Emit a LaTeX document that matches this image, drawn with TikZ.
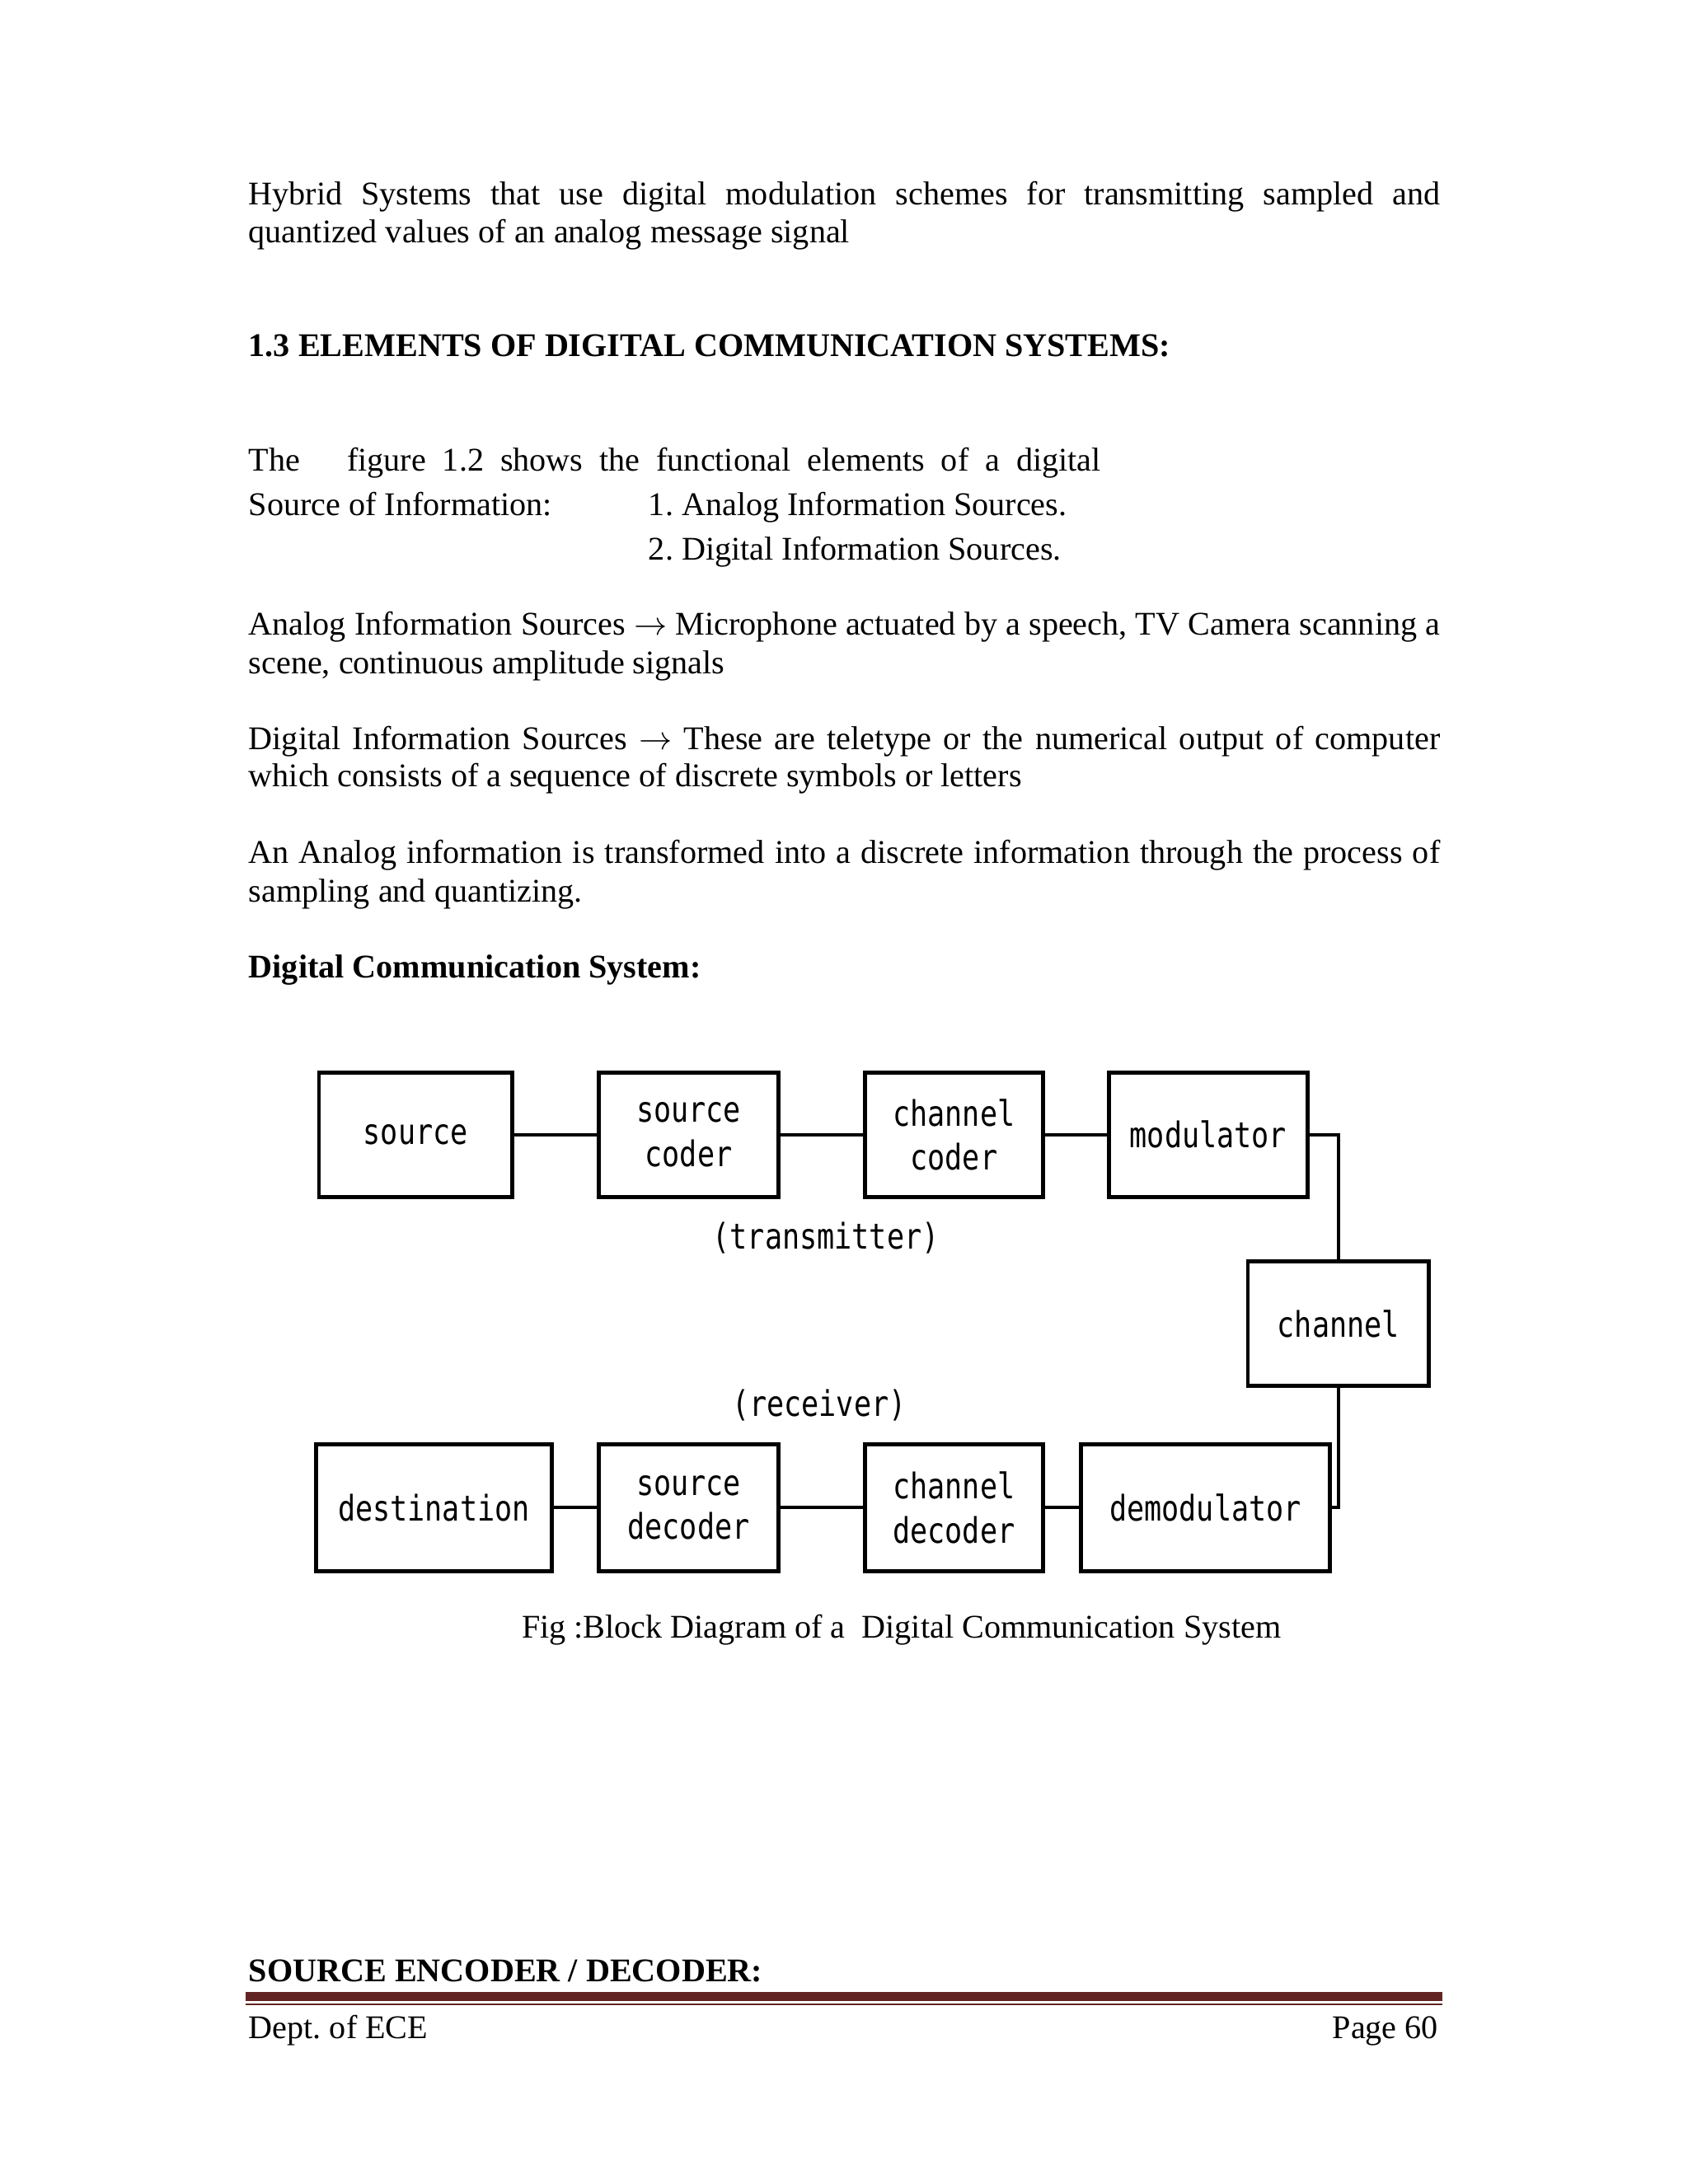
\documentclass[tikz,border=0pt]{standalone}
\usepackage{fontspec}
\setmainfont{Liberation Serif}
\newfontfamily\blockfont[FakeStretch=0.82]{DejaVu Sans Mono}
\definecolor{rulered}{RGB}{98,36,35}

\tikzstyle{block} = [
    rectangle, draw=black, line width=1.4pt,
    minimum height=45pt, inner sep=0pt,
    text centered, align=center,
    font=\blockfont\fontsize{12.8}{16}\selectfont
]
\tikzstyle{caption} = [inner sep=0pt, font=\blockfont\fontsize{12.8}{16}\selectfont]
\tikzstyle{wire} = [line width=1.2pt]
\tikzstyle{txt} = [anchor=base west, inner sep=0pt, font=\fontsize{12}{14}\selectfont]
\tikzstyle{boldtxt} = [txt, font=\fontsize{12}{14}\selectfont\bfseries]

\begin{document}
\frenchspacing
\begin{tikzpicture}[x=1pt, y=-1pt]
    \fill[white] (0,0) rectangle (612,792);
    \useasboundingbox (0,0) rectangle (612,792);

    % page text
    \node (hyb1) [txt] at (90,74.2) {\hbox to 432pt{Hybrid Systems that use digital modulation schemes for transmitting sampled and}};
    \node (hyb2) [txt] at (90,87.9) {quantized values of an analog message signal};
    \node (head) [boldtxt] at (90,129.3) {1.3 ELEMENTS OF DIGITAL COMMUNICATION SYSTEMS:};
    \node (intro) [txt] at (90,170.7) {\hbox to 309pt{The\hspace{17pt}figure 1.2 shows the functional elements of a digital}};
    \node (soi) [txt] at (90,186.9) {Source of Information:};
    \node (soi1) [txt] at (235,186.9) {1. Analog Information Sources.};
    \node (soi2) [txt] at (235,203) {2. Digital Information Sources.};
    \node (ana1) [txt] at (90,230.3) {\hbox to 432pt{Analog Information Sources $\rightarrow$ Microphone actuated by a speech, TV Camera scanning a}};
    \node (ana2) [txt] at (90,244.4) {scene, continuous amplitude signals};
    \node (dig1) [txt] at (90,271.7) {\hbox to 432pt{Digital Information Sources $\rightarrow$ These are teletype or the numerical output of computer}};
    \node (dig2) [txt] at (90,285.3) {which consists of a sequence of discrete symbols or letters};
    \node (samp1) [txt] at (90,313.1) {\hbox to 432pt{An Analog information is transformed into a discrete information through the process of}};
    \node (samp2) [txt] at (90,327.2) {sampling and quantizing.};
    \node (dcs) [boldtxt] at (90,354.5) {Digital Communication System:};

    % transmitter
    \node (src) [block, minimum width=70pt] at (150.7,411.5) {source};
    \node (scoder) [block, minimum width=65pt] at (249.7,411.5) {source\\coder};
    \node (ccoder) [block, minimum width=64.6pt] at (345.9,411.5) {channel\\coder};
    \node (mod) [block, minimum width=72pt] at (438.1,411.5) {modulator};
    \node (tx) [caption] at (299.5,449) {(transmitter)};

    \node (chan) [block, minimum width=65.6pt] at (485.3,480) {channel};

    % receiver
    \node (rx) [caption] at (297,509.5) {(receiver)};
    \node (dest) [block, minimum width=85.4pt, minimum height=46pt] at (157.3,546.7) {destination};
    \node (sdec) [block, minimum width=65pt, minimum height=46pt] at (249.7,546.7) {source\\decoder};
    \node (cdec) [block, minimum width=64.6pt, minimum height=46pt] at (345.9,546.7) {channel\\decoder};
    \node (demod) [block, minimum width=90.4pt, minimum height=46pt] at (437.1,546.7) {demodulator};

    \draw [wire] (src) -- (scoder);
    \draw [wire] (scoder) -- (ccoder);
    \draw [wire] (ccoder) -- (mod);
    \draw [wire] (mod.east) -| (chan.north);
    \draw [wire] (chan.south) |- (demod.east);
    \draw [wire] (demod) -- (cdec);
    \draw [wire] (cdec) -- (sdec);
    \draw [wire] (sdec) -- (dest);

    \node (fig) [txt] at (189,593.9) {Fig :Block Diagram of a\ \ Digital Communication System};

    % bottom of page
    \node (srcenc) [boldtxt] at (90,718.6) {SOURCE ENCODER / DECODER:};
    \draw [rulered, line width=3pt] (89,724) -- (523,724);
    \draw [rulered, line width=0.75pt] (89,726.8) -- (523,726.8);
    \node (dept) [txt] at (90,739.3) {Dept. of ECE};
    \node (page) [txt, anchor=base east] at (521.7,739.3) {Page 60};
\end{tikzpicture}
\end{document}
